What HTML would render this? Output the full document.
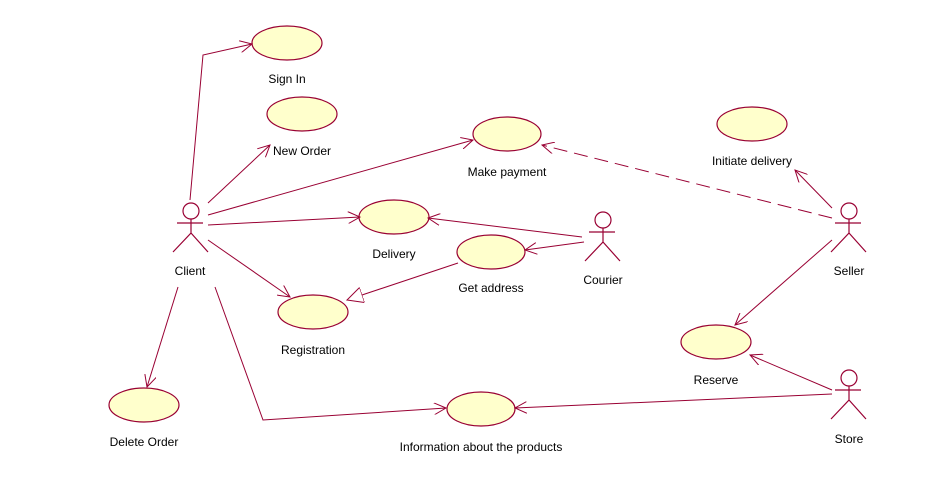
<!DOCTYPE html>
<html><head><style>body{margin:0;background:#fff}svg{display:block}text{font-family:"Liberation Sans",sans-serif;font-size:12px;fill:#000}</style></head>
<body>
<svg width="945" height="498" viewBox="0 0 945 498">
<defs>
<marker id="a" markerWidth="14" markerHeight="12" refX="12" refY="6" orient="auto" markerUnits="userSpaceOnUse"><path d="M0,0 L12,6 L0,12" fill="none" stroke="#990033" stroke-width="1"/></marker>
<marker id="t" markerWidth="18" markerHeight="16" refX="16" refY="8" orient="auto" markerUnits="userSpaceOnUse"><path d="M0,0 L16,8 L0,16 Z" fill="#fff" stroke="#990033" stroke-width="1"/></marker>
</defs>
<g fill="#ffffcc" stroke="#990033" stroke-width="1.2">
<ellipse cx="287" cy="43" rx="35" ry="17"/>
<ellipse cx="302" cy="114" rx="35" ry="17"/>
<ellipse cx="507" cy="134" rx="34" ry="17"/>
<ellipse cx="752" cy="124" rx="35" ry="17"/>
<ellipse cx="394" cy="217" rx="35" ry="17"/>
<ellipse cx="491" cy="252" rx="34" ry="17"/>
<ellipse cx="313" cy="312" rx="35" ry="17"/>
<ellipse cx="716" cy="342" rx="35" ry="17"/>
<ellipse cx="144" cy="405" rx="35" ry="17"/>
<ellipse cx="481" cy="409" rx="34" ry="17"/>
</g>
<g fill="none" stroke="#990033" stroke-width="1">
<polyline points="190,200 203,55 252,44" marker-end="url(#a)"/>
<line x1="208" y1="203" x2="270" y2="145" marker-end="url(#a)"/>
<line x1="208" y1="215" x2="473" y2="140" marker-end="url(#a)"/>
<line x1="208" y1="225" x2="360" y2="217" marker-end="url(#a)"/>
<line x1="208" y1="240" x2="290" y2="297" marker-end="url(#a)"/>
<line x1="178" y1="287" x2="147" y2="387" marker-end="url(#a)"/>
<polyline points="215,287 263,420 446,408" marker-end="url(#a)"/>
<line x1="582" y1="237" x2="428" y2="218" marker-end="url(#a)"/>
<line x1="584" y1="242" x2="525" y2="250" marker-end="url(#a)"/>
<line x1="458" y1="263" x2="347" y2="300" marker-end="url(#t)"/>
<line x1="832" y1="218" x2="542" y2="145" stroke-dasharray="14,7" marker-end="url(#a)"/>
<line x1="832" y1="208" x2="795" y2="170" marker-end="url(#a)"/>
<line x1="832" y1="240" x2="735" y2="325" marker-end="url(#a)"/>
<line x1="832" y1="390" x2="750" y2="355" marker-end="url(#a)"/>
<line x1="832" y1="394" x2="515" y2="408" marker-end="url(#a)"/>
</g>
<g fill="none" stroke="#990033" stroke-width="1.2">
<g transform="translate(191,211)"><circle r="8"/><path d="M-14,12 H12 M0,8 V22 L-18,41 M0,22 L17,41"/></g>
<g transform="translate(603,220)"><circle r="8"/><path d="M-14,12 H12 M0,8 V22 L-18,41 M0,22 L17,41"/></g>
<g transform="translate(849,211)"><circle r="8"/><path d="M-14,12 H12 M0,8 V22 L-18,41 M0,22 L17,41"/></g>
<g transform="translate(849,378)"><circle r="8"/><path d="M-14,12 H12 M0,8 V22 L-18,41 M0,22 L17,41"/></g>
</g>
<g text-anchor="middle">
<text x="287" y="83">Sign In</text>
<text x="302" y="155">New Order</text>
<text x="507" y="176">Make payment</text>
<text x="752" y="165">Initiate delivery</text>
<text x="394" y="258">Delivery</text>
<text x="491" y="292">Get address</text>
<text x="313" y="354">Registration</text>
<text x="716" y="384">Reserve</text>
<text x="144" y="446">Delete Order</text>
<text x="481" y="451">Information about the products</text>
<text x="190" y="275">Client</text>
<text x="603" y="284">Courier</text>
<text x="849" y="275">Seller</text>
<text x="849" y="443">Store</text>
</g>
</svg>
</body></html>
